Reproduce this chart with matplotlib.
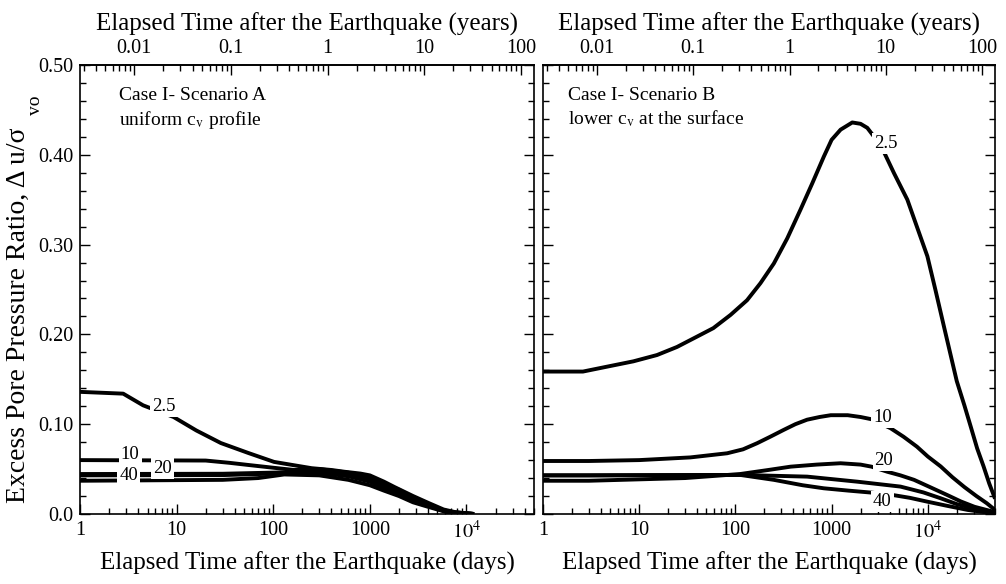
import matplotlib
matplotlib.use("Agg")
import matplotlib.pyplot as plt
from matplotlib.ticker import FixedLocator, FixedFormatter, LogLocator, MultipleLocator, NullFormatter

plt.rcParams['font.family'] = ['Liberation Serif', 'DejaVu Serif']
plt.rcParams['mathtext.fontset'] = 'stix'

# ---- Case I, Scenario A : uniform cv profile ----
a_days_25 = [1, 2.8, 4.5, 9.3, 16, 28.7, 55, 102, 170, 250, 400, 550, 800, 1000, 1400,
             1800, 2800, 4100, 5800, 7700, 12000]
a_vals_25 = [0.136, 0.134, 0.121, 0.108, 0.093, 0.079, 0.068, 0.058, 0.054, 0.051, 0.049,
             0.047, 0.045, 0.043, 0.036, 0.030, 0.020, 0.012, 0.005, 0.002, 0.0]
a_days_10 = [1, 20, 35, 55, 100, 165, 300, 600, 1000, 1400, 2000, 2800, 4000, 5800, 7000, 12000]
a_vals_10 = [0.060, 0.0595, 0.057, 0.0546, 0.0515, 0.049, 0.050, 0.046, 0.041, 0.034, 0.027,
             0.018, 0.011, 0.004, 0.002, 0.0]
a_days_20 = [1, 30, 150, 300, 600, 1000, 1400, 2000, 2800, 4000, 5800, 7000, 12000]
a_vals_20 = [0.0445, 0.0448, 0.0465, 0.048, 0.044, 0.038, 0.031, 0.024, 0.016, 0.010, 0.004,
             0.002, 0.0]
a_days_30 = [1, 30, 150, 300, 600, 1000, 1400, 2000, 2800, 4000, 5800, 7000, 12000]
a_vals_30 = [0.0430, 0.0433, 0.0455, 0.046, 0.042, 0.036, 0.029, 0.022, 0.015, 0.009, 0.0035,
             0.0015, 0.0]
a_days_40 = [1, 30, 70, 130, 300, 600, 1000, 1400, 2000, 2800, 4000, 5800, 7000, 12000]
a_vals_40 = [0.037, 0.038, 0.040, 0.044, 0.043, 0.038, 0.032, 0.026, 0.020, 0.013, 0.008,
             0.003, 0.001, 0.0]

# ---- Case I, Scenario B : lower cv at the surface ----
b_days_25 = [1, 2.6, 4.6, 8.7, 15.3, 24.7, 40, 59, 89, 132, 182, 251, 346, 475, 628, 830,
             1000, 1240, 1640, 2000, 2350, 2770, 3540, 4450, 6130, 7700, 9900, 12000, 14700,
             20000, 24000, 28000, 32600, 38000, 43500, 50000]
b_vals_25 = [0.1586, 0.1586, 0.164, 0.170, 0.177, 0.186, 0.1976, 0.207, 0.2217, 0.238, 0.257,
             0.279, 0.307, 0.339, 0.368, 0.398, 0.4167, 0.428, 0.436, 0.4345, 0.430, 0.420,
             0.402, 0.3796, 0.350, 0.320, 0.287, 0.2496, 0.209, 0.148, 0.121, 0.097, 0.073,
             0.053, 0.034, 0.017]
b_days_10 = [1, 3, 10, 34, 82, 120, 168, 230, 317, 420, 556, 750, 980, 1470, 2000, 2600, 4100,
             5600, 7700, 10000, 13600, 18000, 24000, 32000, 41000, 50000]
b_vals_10 = [0.059, 0.059, 0.060, 0.063, 0.0676, 0.072, 0.0788, 0.086, 0.0936, 0.100, 0.105,
             0.108, 0.110, 0.110, 0.108, 0.1055, 0.0955, 0.086, 0.075, 0.064, 0.053, 0.041,
             0.030, 0.020, 0.012, 0.0045]
b_days_20 = [1, 3, 30, 112, 220, 375, 700, 1240, 2000, 2600, 3800, 5200, 7200, 10500, 16000,
             22000, 30600, 50000]
b_vals_20 = [0.037, 0.037, 0.040, 0.0445, 0.049, 0.0527, 0.055, 0.0565, 0.055, 0.0527, 0.047,
             0.043, 0.038, 0.030, 0.021, 0.014, 0.008, 0.002]
b_days_30 = [1, 3, 112, 556, 1840, 5200, 9000, 13600, 20000, 30600, 50000]
b_vals_30 = [0.043, 0.043, 0.0435, 0.0416, 0.036, 0.0305, 0.024, 0.0175, 0.011, 0.006, 0.001]
b_days_40 = [1, 3, 112, 251, 500, 830, 1500, 2600, 4400, 6500, 9900, 16000, 26000, 50000]
b_vals_40 = [0.043, 0.043, 0.0435, 0.038, 0.032, 0.0286, 0.026, 0.0238, 0.021, 0.018, 0.0137,
             0.009, 0.0045, 0.0005]

# curve labels: (text, day, value)
a_labels = [('2.5', 7.4, 0.120), ('10', 3.3, 0.0657), ('20', 7.1, 0.0509), ('40', 3.2, 0.0423)]
b_labels = [('2.5', 3650, 0.413), ('10', 3370, 0.1077), ('20', 3500, 0.0594), ('40', 3370, 0.0137)]

day_ticks = [1, 10, 100, 1000, 1e4]
day_ticklabels = ['1', '10', '100', '1000', '$10^4$']
year_ticks = [0.01, 0.1, 1, 10, 100]
year_ticklabels = ['0.01', '0.1', '1', '10', '100']
y_ticks = [0.0, 0.1, 0.2, 0.3, 0.4, 0.5]
y_ticklabels = ['0.0', '0.10', '0.20', '0.30', '0.40', '0.50']

DAYS_PER_YEAR = 365.25
TICK_FS = 14.5
LABEL_FS = 18

fig = plt.figure(figsize=(10.06, 5.84), dpi=100)
ax_a = fig.add_axes([0.0795, 0.1199, 0.4513, 0.7688])
ax_b = fig.add_axes([0.5398, 0.1199, 0.4493, 0.7688])


def setup_axes(ax, show_ylabels):
    ax.set_xscale('log')
    ax.set_xlim(1, 5e4)
    ax.set_ylim(0, 0.5)
    ax.xaxis.set_major_locator(FixedLocator(day_ticks))
    ax.xaxis.set_major_formatter(FixedFormatter(day_ticklabels))
    ax.xaxis.set_minor_locator(LogLocator(base=10, subs=range(2, 10), numticks=20))
    ax.xaxis.set_minor_formatter(NullFormatter())
    ax.yaxis.set_major_locator(FixedLocator(y_ticks))
    ax.yaxis.set_minor_locator(MultipleLocator(0.02))
    if show_ylabels:
        ax.yaxis.set_major_formatter(FixedFormatter(y_ticklabels))
    else:
        ax.yaxis.set_major_formatter(NullFormatter())
    ax.tick_params(which='both', direction='in', top=False, right=True, width=1.0,
                   labelsize=TICK_FS, pad=5)
    ax.tick_params(which='major', length=7)
    ax.tick_params(which='minor', length=4)
    for sp in ax.spines.values():
        sp.set_linewidth(1.2)
    ax.set_xlabel('Elapsed Time after the Earthquake (days)', fontsize=LABEL_FS, labelpad=6)

    top = ax.secondary_xaxis('top', functions=(lambda d: d / DAYS_PER_YEAR,
                                               lambda y: y * DAYS_PER_YEAR))
    top.xaxis.set_major_locator(FixedLocator(year_ticks))
    top.xaxis.set_major_formatter(FixedFormatter(year_ticklabels))
    top.xaxis.set_minor_locator(LogLocator(base=10, subs=range(2, 10), numticks=20))
    top.xaxis.set_minor_formatter(NullFormatter())
    top.tick_params(which='both', direction='in', width=1.0, labelsize=TICK_FS, pad=5)
    top.tick_params(which='major', length=7)
    top.tick_params(which='minor', length=4)
    top.spines['top'].set_linewidth(1.2)
    top.set_xlabel('Elapsed Time after the Earthquake (years)', fontsize=LABEL_FS, labelpad=6)


def draw_curves(ax, series, labels):
    for days, vals in series:
        ax.plot(days, vals, color='black', lw=2.8, solid_capstyle='butt', solid_joinstyle='round')
    for txt, d, v in labels:
        ax.text(d, v, txt, fontsize=13.5, ha='center', va='center', zorder=5,
                bbox=dict(facecolor='white', edgecolor='none', pad=1.5))


setup_axes(ax_a, True)
setup_axes(ax_b, False)

draw_curves(ax_a, [(a_days_25, a_vals_25), (a_days_10, a_vals_10), (a_days_20, a_vals_20),
                   (a_days_30, a_vals_30), (a_days_40, a_vals_40)], a_labels)
draw_curves(ax_b, [(b_days_25, b_vals_25), (b_days_10, b_vals_10), (b_days_20, b_vals_20),
                   (b_days_30, b_vals_30), (b_days_40, b_vals_40)], b_labels)

ax_a.text(0.085, 0.922, 'Case I- Scenario A', transform=ax_a.transAxes, fontsize=14)
ax_a.text(0.085, 0.867, r'uniform c$_{\rm v}$ profile', transform=ax_a.transAxes, fontsize=14)
ax_b.text(0.055, 0.922, 'Case I- Scenario B', transform=ax_b.transAxes, fontsize=14)
ax_b.text(0.055, 0.867, r'lower c$_{\rm v}$ at the surface', transform=ax_b.transAxes, fontsize=14)

# y axis title, with the "vo" subscript set apart
fig.text(18 / 1006, 1 - 315 / 584, 'Excess Pore Pressure Ratio, Δ u/σ', rotation=90,
         ha='center', va='center', fontsize=20)
fig.text(36 / 1006, 1 - 105 / 584, 'vo', rotation=90, ha='center', va='center', fontsize=14)

fig.savefig('out.png', dpi=100)
